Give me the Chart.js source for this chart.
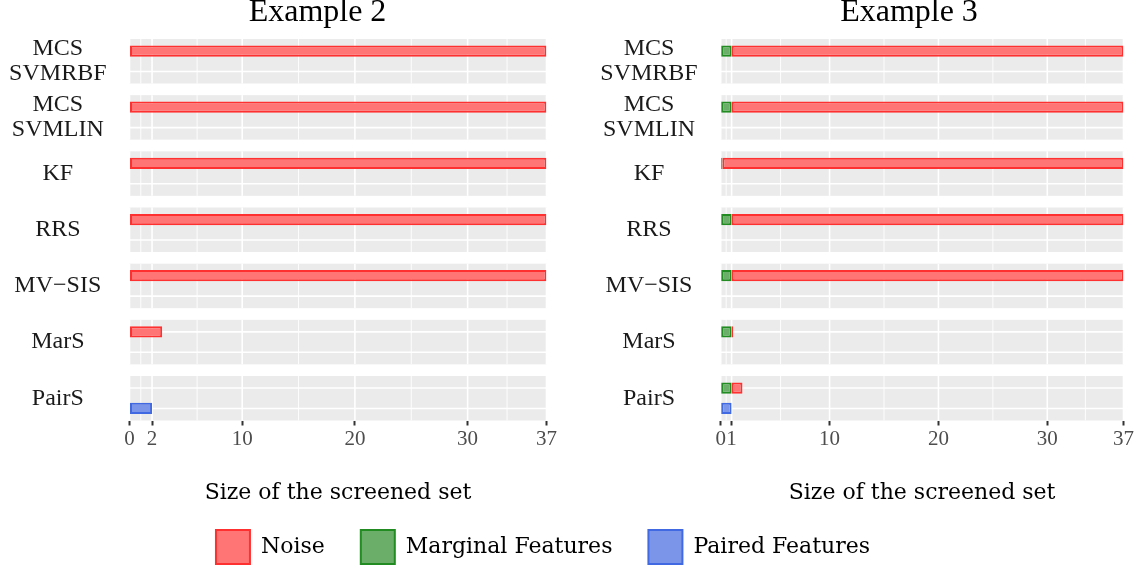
<!DOCTYPE html>
<html>
<head>
<meta charset="utf-8">
<script src="https://cdn.jsdelivr.net/npm/chart.js@4"></script>
<style>
  html, body { margin: 0; padding: 0; background: #ffffff; }
  #wrap { position: relative; width: 1140px; height: 569px; overflow: hidden; background: #ffffff; }
  canvas { position: absolute; }
</style>
</head>
<body>
<div id="wrap">
  <canvas id="ex2" width="635" height="510" style="left:0px;top:0px"></canvas>
  <canvas id="ex3" width="638" height="510" style="left:590px;top:0px"></canvas>
  <canvas id="leg" width="1086" height="240" style="left:0px;top:494px"></canvas>
</div>
<script>
// ---------------- data ----------------
const methods = [['MCS', 'SVMRBF'], ['MCS', 'SVMLIN'], 'KF', 'RRS', 'MV\u2212SIS', 'MarS', 'PairS'];
const seriesNames = ['Noise', 'Marginal Features', 'Paired Features'];
const panelTitles = ['Example 2', 'Example 3'];
const xTitle = 'Size of the screened set';

const ex2Noise    = [37, 37, 37, 37, 37, 2.9, 0];
const ex2Marginal = [0, 0, 0, 0, 0, 0, 0];
const ex2Paired   = [0, 0, 0, 0, 0, 0, 2];

const ex3Noise    = [36, 36, 36.85, 36, 36, 0.15, 1];
const ex3Marginal = [1, 1, 0.15, 1, 1, 1, 1];
const ex3Paired   = [0, 0, 0, 0, 0, 0, 1];

const ex2Ticks = [0, 2, 10, 20, 30, 37];
const ex3Ticks = [0, 1, 10, 20, 30, 37];
const xMax = 37;

// ---------------- styles ----------------
const COL = {
  noise:    { fill: '#ff7474', border: '#ff3030' },
  marginal: { fill: '#6aae6a', border: '#228b22' },
  paired:   { fill: '#7b95e8', border: '#4169e1' }
};
const CAT_PCT = 0.728;     // two rows per facet
const BAR_PCT = 0.55;
const FACET_HALF = 0.396;  // half height of a facet strip (in index units)

// zero-size bars are not drawn at all (no stray border line)
const toPoints = arr => arr.map((v, i) => ({ x: v === 0 ? null : v, y: i }));

const facetPlugin = {
  id: 'facets',
  beforeDatasetsDraw(chart) {
    const { ctx } = chart;
    const x = chart.scales.x, y = chart.scales.y;
    const majors = x.ticks.map(t => t.value);
    const minors = [];
    for (let k = 1; k < majors.length; k++) minors.push((majors[k - 1] + majors[k]) / 2);
    const step = Math.abs(y.getPixelForValue(1) - y.getPixelForValue(0));
    const rowOff = step * CAT_PCT / 4;
    ctx.save();
    methods.forEach((m, i) => {
      const top = y.getPixelForValue(i - FACET_HALF);
      const bot = y.getPixelForValue(i + FACET_HALF);
      const c = y.getPixelForValue(i);
      ctx.fillStyle = '#ebebeb';
      ctx.fillRect(x.left, top, x.right - x.left, bot - top);
      ctx.strokeStyle = '#ffffff';
      ctx.lineWidth = 0.9;
      minors.forEach(v => {
        const px = x.getPixelForValue(v);
        ctx.beginPath(); ctx.moveTo(px, top); ctx.lineTo(px, bot); ctx.stroke();
      });
      ctx.lineWidth = 1.6;
      majors.forEach(v => {
        const px = x.getPixelForValue(v);
        ctx.beginPath(); ctx.moveTo(px, top); ctx.lineTo(px, bot); ctx.stroke();
      });
      [c - rowOff, c + rowOff].forEach(py => {
        ctx.beginPath(); ctx.moveTo(x.left, py); ctx.lineTo(x.right, py); ctx.stroke();
      });
    });
    ctx.restore();
  }
};

function makePanel(id, title, noise, marginal, paired, ticks, yWidth, xPadRight) {
  const ds = (label, arr, col, stack) => ({
    label, data: toPoints(arr), stack,
    backgroundColor: col.fill, borderColor: col.border, borderWidth: 2,
    borderSkipped: false, categoryPercentage: CAT_PCT, barPercentage: BAR_PCT
  });
  return new Chart(document.getElementById(id), {
    type: 'bar',
    data: {
      datasets: [
        ds(seriesNames[1], marginal, COL.marginal, 'sel'),
        ds(seriesNames[0], noise, COL.noise, 'sel'),
        ds(seriesNames[2], paired, COL.paired, 'pair')
      ]
    },
    plugins: [facetPlugin],
    options: {
      indexAxis: 'y',
      responsive: false,
      animation: false,
      events: [],
      layout: { padding: { left: 0, right: 0, top: 0, bottom: 3.9 } },
      plugins: {
        legend: { display: false },
        tooltip: { enabled: false },
        title: {
          display: true, text: title, color: '#000000',
          font: { family: 'Liberation Serif', size: 32, weight: 'normal', lineHeight: 0.8125 },
          padding: { top: 0, bottom: 13 }
        }
      },
      scales: {
        x: {
          type: 'linear', stacked: true, min: 0, max: xMax, offset: false,
          afterBuildTicks: s => { s.ticks = ticks.map(v => ({ value: v })); },
          afterFit: s => { s.paddingRight = xPadRight; },
          grid: { display: true, drawOnChartArea: false, drawTicks: true, tickLength: 5, tickWidth: 2, tickColor: '#333333' },
          border: { display: false },
          ticks: {
            autoSkip: false, maxRotation: 0, minRotation: 0, padding: 1.5, color: '#4d4d4d',
            font: { family: 'Liberation Serif', size: 21, lineHeight: 1.2 },
            callback: v => String(v)
          },
          title: {
            display: true, text: xTitle, color: '#000000',
            font: { family: 'DejaVu Serif', size: 22, lineHeight: 1.2 },
            padding: { top: 26, bottom: 0 }
          }
        },
        y: {
          type: 'linear', reverse: true, stacked: true, offset: false,
          min: -FACET_HALF, max: methods.length - 1 + FACET_HALF,
          afterBuildTicks: s => { s.ticks = methods.map((_, i) => ({ value: i })); },
          afterFit: s => { s.width = yWidth; },
          grid: { display: true, offset: false, drawOnChartArea: false, drawTicks: true, tickLength: 23, color: 'rgba(0,0,0,0)' },
          border: { display: false },
          ticks: {
            autoSkip: false, padding: 0, crossAlign: 'center', color: '#1a1a1a',
            font: { family: 'Liberation Serif', size: 24, lineHeight: 25 / 24 },
            callback: v => methods[v]
          }
        }
      }
    }
  });
}

makePanel('ex2', panelTitles[0], ex2Noise, ex2Marginal, ex2Paired, ex2Ticks, 129.5, 88.5);
makePanel('ex3', panelTitles[1], ex3Noise, ex3Marginal, ex3Paired, ex3Ticks, 130.7, 104.5);

// shared legend
new Chart(document.getElementById('leg'), {
  type: 'bar',
  data: {
    labels: [],
    datasets: [
      { label: seriesNames[0], data: [], backgroundColor: COL.noise.fill, borderColor: COL.noise.border, borderWidth: 2 },
      { label: seriesNames[1], data: [], backgroundColor: COL.marginal.fill, borderColor: COL.marginal.border, borderWidth: 2 },
      { label: seriesNames[2], data: [], backgroundColor: COL.paired.fill, borderColor: COL.paired.border, borderWidth: 2 }
    ]
  },
  options: {
    responsive: false, animation: false, events: [],
    layout: { padding: 0 },
    scales: { x: { display: false }, y: { display: false } },
    plugins: {
      tooltip: { enabled: false },
      legend: {
        display: true, position: 'top',
        labels: { boxWidth: 34, boxHeight: 34, padding: 36, color: '#000000', font: { family: 'DejaVu Serif', size: 22 } }
      }
    }
  }
});
</script>
</body>
</html>
